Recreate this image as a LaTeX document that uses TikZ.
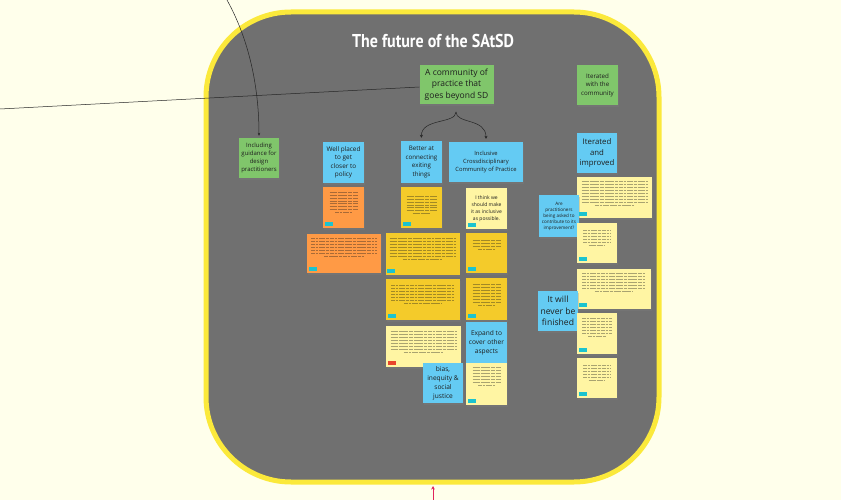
\documentclass[tikz,border=0pt]{standalone}
\usepackage{fontspec}
\setmainfont{Open Sans}
\newfontfamily\titlefont[FakeStretch=0.86]{PT Sans}
\usetikzlibrary{arrows.meta,shadows}

\definecolor{paper}{HTML}{FFFFEB}
\definecolor{board}{HTML}{707070}
\definecolor{rim}{HTML}{FBE93B}
\definecolor{leaf}{HTML}{80C66B}
\definecolor{sky}{HTML}{64CBF3}
\definecolor{tangerine}{HTML}{FF9A45}
\definecolor{gold}{HTML}{F4CB2A}
\definecolor{pale}{HTML}{FFF5A3}
\definecolor{tagcyan}{HTML}{1CC3CF}
\definecolor{tagred}{HTML}{E8452C}
\definecolor{ink}{HTML}{1E1E1E}
\definecolor{crimson}{HTML}{E0245C}

\tikzset{
  note/.style={minimum width=41pt, minimum height=41pt, inner sep=1pt, align=center, text=ink,
    drop shadow={shadow xshift=0.5pt, shadow yshift=-2pt, opacity=0.3}},
  wide/.style={minimum width=74pt},
  greennote/.style={note, fill=leaf},
  bluenote/.style={note, fill=sky},
  orangenote/.style={note, fill=tangerine},
  goldnote/.style={note, fill=gold},
  palenote/.style={note, fill=pale},
  scribble/.style={line width=0.75pt, ink, opacity=0.38,
    dash pattern=on 4pt off 0.8pt on 2.5pt off 0.8pt on 6pt off 0.8pt on 3pt off 0.8pt},
  link/.style={draw=black!85, line width=0.5pt},
  title/.style={text=white, font=\titlefont\bfseries\fontsize{18.6}{22}\selectfont},
}

% illegible lines of small text: node, lines, half width, offset from top
\newcommand\scrib[4]{%
  \foreach \k [evaluate=\k as \w using {\k==#2 ? 0.6*#3 : #3}] in {1,...,#2}
    \draw[scribble] ([xshift={-\w*1pt}, yshift={-#4pt-\k*2.9pt}]#1.north) -- ++({2*\w},0);}
% small coloured tag in the lower left corner
\newcommand\tagnote[2][tagcyan]{%
  \fill[#1] ([shift={(2pt,2pt)}]#2.south west) rectangle ++(8,-4);}

\begin{document}
\begin{tikzpicture}[x=1pt,y=-1pt]
  \useasboundingbox[fill=paper] (0,0) rectangle (841,500);

  % frame
  \draw[rim, line width=5pt, fill=board, rounded corners=85pt] (206,12) rectangle (659,482);
  \node[title] (title) at (433,41) {The future of the SAtSD};

  % headers
  \node[greennote, wide, minimum height=39pt, font=\fontsize{8.5}{11.5}\selectfont] (community) at (456.5,84.5)
    {A community of\\practice that\\goes beyond SD};
  \node[greennote, minimum height=40pt, font=\fontsize{6.2}{8.4}\selectfont] (withcomm) at (597.5,85)
    {Iterated\\with the\\community};
  \node[greennote, minimum width=40pt, minimum height=40pt, font=\fontsize{6}{8}\selectfont] (including) at (259,158)
    {Including\\guidance for\\design\\practitioners};
  \node[bluenote, font=\fontsize{6.4}{8.5}\selectfont] (wellplaced) at (343.5,162.5)
    {Well placed\\to get\\closer to\\policy};
  \node[bluenote, minimum height=42pt, font=\fontsize{6.2}{8.5}\selectfont] (better) at (421.5,162)
    {Better at\\connecting\\exiting\\things};
  \node[bluenote, wide, minimum height=40pt, font=\fontsize{5.8}{8.3}\selectfont] (inclusive) at (486,162)
    {Inclusive\\Crossdisciplinary\\Community of Practice};
  \node[bluenote, minimum width=40pt, minimum height=40pt, font=\fontsize{7.8}{10.3}\selectfont] (improved) at (597,153)
    {Iterated\\and\\improved};

  % first column
  \node[orangenote, minimum height=40pt] (o1) at (343.5,207.5) {};
  \node[orangenote, wide, minimum height=39pt] (o2) at (344,253.5) {};

  % second column
  \node[goldnote, minimum height=40pt] (g1) at (421.5,207.5) {};
  \node[goldnote, wide, minimum height=42pt] (g2) at (422.5,254) {};
  \node[goldnote, wide, minimum height=41pt] (g3) at (423,299.5) {};
  \node[palenote, wide, minimum width=75pt] (p1) at (423.5,346.5) {};
  \node[bluenote, minimum width=40pt, minimum height=40pt, font=\fontsize{6.6}{9}\selectfont] (bias) at (443,383)
    {bias,\\inequity \&\\social\\justice};

  % third column
  \node[palenote, font=\fontsize{5}{7}\selectfont] (think) at (486.5,208.5)
    {I think we\\should make\\it as inclusive\\as possible.};
  \node[goldnote, minimum height=40pt] (g4) at (486.5,253) {};
  \node[goldnote, minimum height=42pt] (g5) at (486.5,299) {};
  \node[bluenote, font=\fontsize{6.6}{8.8}\selectfont] (expand) at (486.5,342.5)
    {Expand to\\cover other\\aspects};
  \node[palenote, minimum height=42pt] (p2) at (486.5,384) {};

  % right column
  \node[palenote, wide, minimum width=75pt] (r1) at (614.5,197.5) {};
  \node[bluenote, minimum width=40pt, minimum height=42pt, font=\fontsize{4.6}{6}\selectfont] (askedto) at (559,216)
    {Are\\practitioners\\being asked to\\contribute to its\\improvement?};
  \node[palenote, minimum width=40pt, minimum height=40pt] (r2) at (597,243) {};
  \node[palenote, wide, minimum height=40pt] (r3) at (614,289) {};
  \node[bluenote, minimum width=40pt, minimum height=40pt, font=\fontsize{8.6}{11.3}\selectfont] (never) at (558,311)
    {It will\\never be\\finished};
  \node[palenote, minimum width=40pt] (r4) at (597,333.5) {};
  \node[palenote, minimum width=40pt, minimum height=40pt] (r5) at (597,378) {};

  % small text
  \scrib{o1}{8}{14}{2}
  \scrib{o2}{7}{33}{2}
  \scrib{g1}{7}{15}{6}
  \scrib{g2}{8}{33}{3}
  \scrib{g3}{7}{32}{4}
  \scrib{p1}{8}{33}{3}
  \scrib{g4}{4}{14}{5}
  \scrib{g5}{8}{14}{4}
  \scrib{p2}{7}{14}{2}
  \scrib{r1}{9}{33}{2}
  \scrib{r2}{6}{14}{5}
  \scrib{r3}{7}{32}{2}
  \scrib{r4}{7}{15}{3}
  \scrib{r5}{6}{14}{5}

  \foreach \n in {o1,o2,g1,g2,g3,think,g4,g5,p2,r1,r2,r3,r4,r5}
    \tagnote{\n};
  \tagnote[tagred]{p1}

  % connectors
  \coordinate (fork) at (456,112);
  \draw[link, -{Stealth[length=3pt,width=3pt]}, shorten >=3pt] (fork) .. controls (456,124) and (421,118) .. (better.north);
  \draw[link, -{Stealth[length=3pt,width=3pt]}, shorten >=3pt] (fork) .. controls (456,124) and (486,118) .. (inclusive.north);
  \coordinate (offtop) at (227,0);
  \draw[link, -{Stealth[length=3pt,width=2.5pt]}, shorten >=2pt] (offtop) .. controls (252,45) and (259,95) .. (including.north);
  \coordinate (offleft) at (0,109);
  \draw[link] (offleft) -- ([yshift=-2.5pt]community.west);
  \coordinate (offbottom) at (433,500);
  \coordinate (rimbottom) at (433,486);
  \draw[crimson, line width=0.9pt, -{Stealth[length=3.5pt,width=3.5pt]}] (offbottom) -- (rimbottom);
\end{tikzpicture}
\end{document}
